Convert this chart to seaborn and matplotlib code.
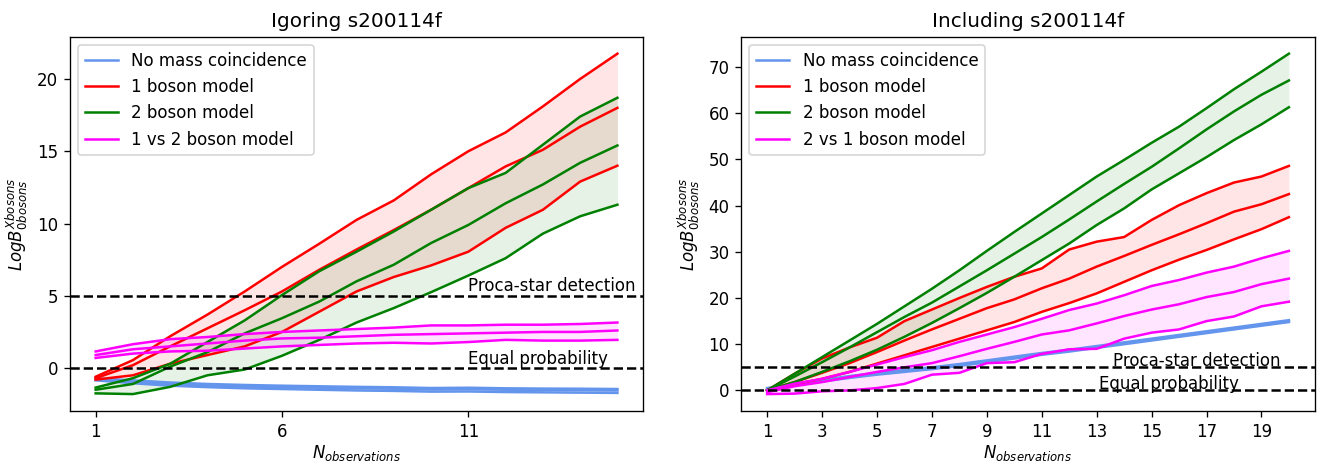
import matplotlib
matplotlib.use("Agg")
import matplotlib.pyplot as plt
import numpy as np
import seaborn as sns

# Number of observations
n_left = np.arange(1, 16)
n_right = np.arange(1, 21)

# --- Left panel: ignoring s200114f (lower / median / upper) ---
blue_lo_L = [-0.85, -1.05, -1.22, -1.32, -1.4, -1.45, -1.5, -1.55, -1.58, -1.63, -1.62, -1.66, -1.68, -1.7, -1.72]
blue_mid_L = [-0.8, -0.95, -1.1, -1.2, -1.27, -1.32, -1.36, -1.4, -1.43, -1.48, -1.46, -1.5, -1.52, -1.53, -1.55]
blue_hi_L = [-0.7, -0.85, -1.0, -1.1, -1.17, -1.22, -1.26, -1.3, -1.33, -1.38, -1.36, -1.4, -1.42, -1.43, -1.45]

red_lo_L = [-0.8, -0.5, 0.3, 0.9, 1.5, 2.5, 3.9, 5.3, 6.3, 7.1, 8.05, 9.7, 10.95, 12.9, 14.0]
red_mid_L = [-0.7, 0.2, 1.5, 2.75, 4.0, 5.3, 6.8, 8.2, 9.55, 10.95, 12.45, 13.95, 15.1, 16.7, 18.0]
red_hi_L = [-0.6, 0.55, 2.2, 3.7, 5.3, 7.0, 8.6, 10.25, 11.6, 13.4, 15.0, 16.3, 18.1, 20.0, 21.75]

green_lo_L = [-1.75, -1.8, -1.3, -0.5, -0.1, 0.85, 1.95, 3.15, 4.15, 5.25, 6.4, 7.6, 9.3, 10.5, 11.3]
green_mid_L = [-1.5, -1.1, 0.1, 1.1, 2.4, 3.45, 4.6, 6.0, 7.15, 8.65, 9.9, 11.4, 12.7, 14.2, 15.4]
green_hi_L = [-1.35, -0.7, 0.3, 1.8, 3.3, 5.05, 6.7, 8.05, 9.45, 10.95, 12.45, 13.5, 15.45, 17.4, 18.7]

mag_lo_L = [0.7, 1.0, 1.15, 1.2, 1.35, 1.5, 1.6, 1.7, 1.75, 1.7, 1.8, 1.95, 1.9, 1.9, 1.95]
mag_mid_L = [0.9, 1.3, 1.5, 1.7, 1.9, 2.05, 2.1, 2.2, 2.3, 2.35, 2.4, 2.45, 2.5, 2.5, 2.6]
mag_hi_L = [1.15, 1.65, 2.0, 2.15, 2.35, 2.5, 2.6, 2.7, 2.8, 2.95, 2.95, 3.0, 3.0, 3.05, 3.15]

# --- Right panel: including s200114f ---
blue_lo_R = [0.1, 1.1, 1.9, 2.7, 3.4, 4.0, 4.6, 5.3, 6.1, 6.9, 7.7, 8.4, 9.2, 10.0, 10.8, 11.6, 12.4, 13.2, 14.0, 14.8]
blue_mid_R = [0.3, 1.3, 2.1, 2.9, 3.6, 4.2, 4.8, 5.5, 6.3, 7.1, 7.9, 8.6, 9.4, 10.2, 11.0, 11.8, 12.6, 13.4, 14.2, 15.0]
blue_hi_R = [0.5, 1.5, 2.3, 3.1, 3.8, 4.4, 5.0, 5.7, 6.5, 7.3, 8.1, 8.8, 9.6, 10.4, 11.2, 12.0, 12.8, 13.6, 14.4, 15.2]

red_lo_R = [-0.1, 1.3, 2.5, 4.0, 5.8, 7.6, 9.4, 11.2, 13.0, 14.8, 17.0, 18.9, 21.0, 23.5, 26.0, 28.3, 30.4, 32.7, 34.9, 37.5]
red_mid_R = [0.0, 1.8, 3.8, 5.9, 8.3, 10.8, 13.2, 15.5, 17.8, 19.7, 22.1, 24.2, 26.8, 29.1, 31.5, 33.8, 36.2, 38.7, 40.3, 42.5]
red_hi_R = [0.0, 3.6, 6.9, 9.3, 11.4, 15.0, 17.5, 20.0, 22.4, 24.6, 26.4, 30.5, 32.2, 33.2, 36.9, 40.1, 42.7, 45.0, 46.3, 48.6]

green_lo_R = [0.0, 1.8, 4.0, 6.3, 8.8, 11.6, 14.6, 17.8, 21.1, 24.6, 28.2, 31.8, 35.8, 39.4, 43.5, 47.0, 50.5, 54.2, 57.6, 61.3]
green_mid_R = [0.0, 3.0, 6.1, 9.3, 12.6, 15.9, 19.0, 22.5, 26.0, 29.6, 33.2, 37.0, 40.9, 44.7, 48.4, 52.4, 56.5, 60.4, 64.0, 67.1]
green_hi_R = [0.0, 3.6, 7.2, 10.8, 14.4, 18.2, 22.0, 26.0, 30.2, 34.3, 38.3, 42.3, 46.3, 49.9, 53.6, 57.1, 61.1, 65.2, 69.0, 72.9]

mag_lo_R = [-0.8, -0.7, -0.2, 0.0, 0.5, 1.4, 3.4, 3.8, 5.9, 6.1, 7.9, 8.9, 9.0, 11.2, 12.5, 13.2, 15.0, 16.0, 18.2, 19.2]
mag_mid_R = [-0.4, 0.9, 1.8, 2.9, 4.0, 5.0, 5.9, 7.4, 9.0, 10.5, 12.1, 13.0, 14.5, 16.1, 17.5, 18.65, 20.2, 21.3, 23.0, 24.2]
mag_hi_R = [0.0, 1.45, 2.5, 4.0, 5.6, 7.2, 8.7, 10.5, 12.1, 13.7, 15.5, 17.4, 18.8, 20.6, 22.6, 23.9, 25.5, 26.8, 28.6, 30.2]

colors = ["cornflowerblue", "red", "green", "magenta"]
labels_left = ["No mass coincidence", "1 boson model", "2 boson model", "1 vs 2 boson model"]
labels_right = ["No mass coincidence", "1 boson model", "2 boson model", "2 vs 1 boson model"]

left_sets = [(blue_lo_L, blue_mid_L, blue_hi_L), (red_lo_L, red_mid_L, red_hi_L),
             (green_lo_L, green_mid_L, green_hi_L), (mag_lo_L, mag_mid_L, mag_hi_L)]
right_sets = [(blue_lo_R, blue_mid_R, blue_hi_R), (red_lo_R, red_mid_R, red_hi_R),
              (green_lo_R, green_mid_R, green_hi_R), (mag_lo_R, mag_mid_R, mag_hi_R)]

fig, axes = plt.subplots(1, 2, figsize=(11, 464 / 120), dpi=120)
fig.subplots_adjust(left=0.0527, right=0.9962, top=0.921, bottom=0.114, wspace=0.17)


def draw_panel(ax, n, sets, labels, title, xticks, txt_x):
    for (lo, mid, hi), c, lab in zip(sets, colors, labels):
        sns.lineplot(x=n, y=mid, color=c, label=lab, ax=ax, lw=1.5, errorbar=None, sort=False)
        sns.lineplot(x=n, y=hi, color=c, ax=ax, lw=1.5, errorbar=None, sort=False)
        sns.lineplot(x=n, y=lo, color=c, ax=ax, lw=1.5, errorbar=None, sort=False)
        ax.fill_between(n, lo, hi, color=c, alpha=0.1, lw=0)
    # reference levels
    ax.axhline(5, color="k", ls="--", lw=1.5)
    ax.axhline(0, color="k", ls="--", lw=1.5)
    ax.text(txt_x[0], 5.3, "Proca-star detection", fontsize=10)
    ax.text(txt_x[1], 0.3, "Equal probability", fontsize=10)
    ax.set_xticks(xticks)
    ax.set_title(title, fontsize=12)
    ax.set_xlabel(r"$N_{observations}$", labelpad=1.5)
    ax.set_ylabel(r"$LogB^{Xbosons}_{0bosons}$")
    ax.legend(loc="upper left")


draw_panel(axes[0], n_left, left_sets, labels_left, "Igoring s200114f",
           [1, 6, 11], (11.0, 11.0))
draw_panel(axes[1], n_right, right_sets, labels_right, "Including s200114f",
           list(range(1, 20, 2)), (13.6, 13.1))

fig.savefig("out.png", dpi=120)
